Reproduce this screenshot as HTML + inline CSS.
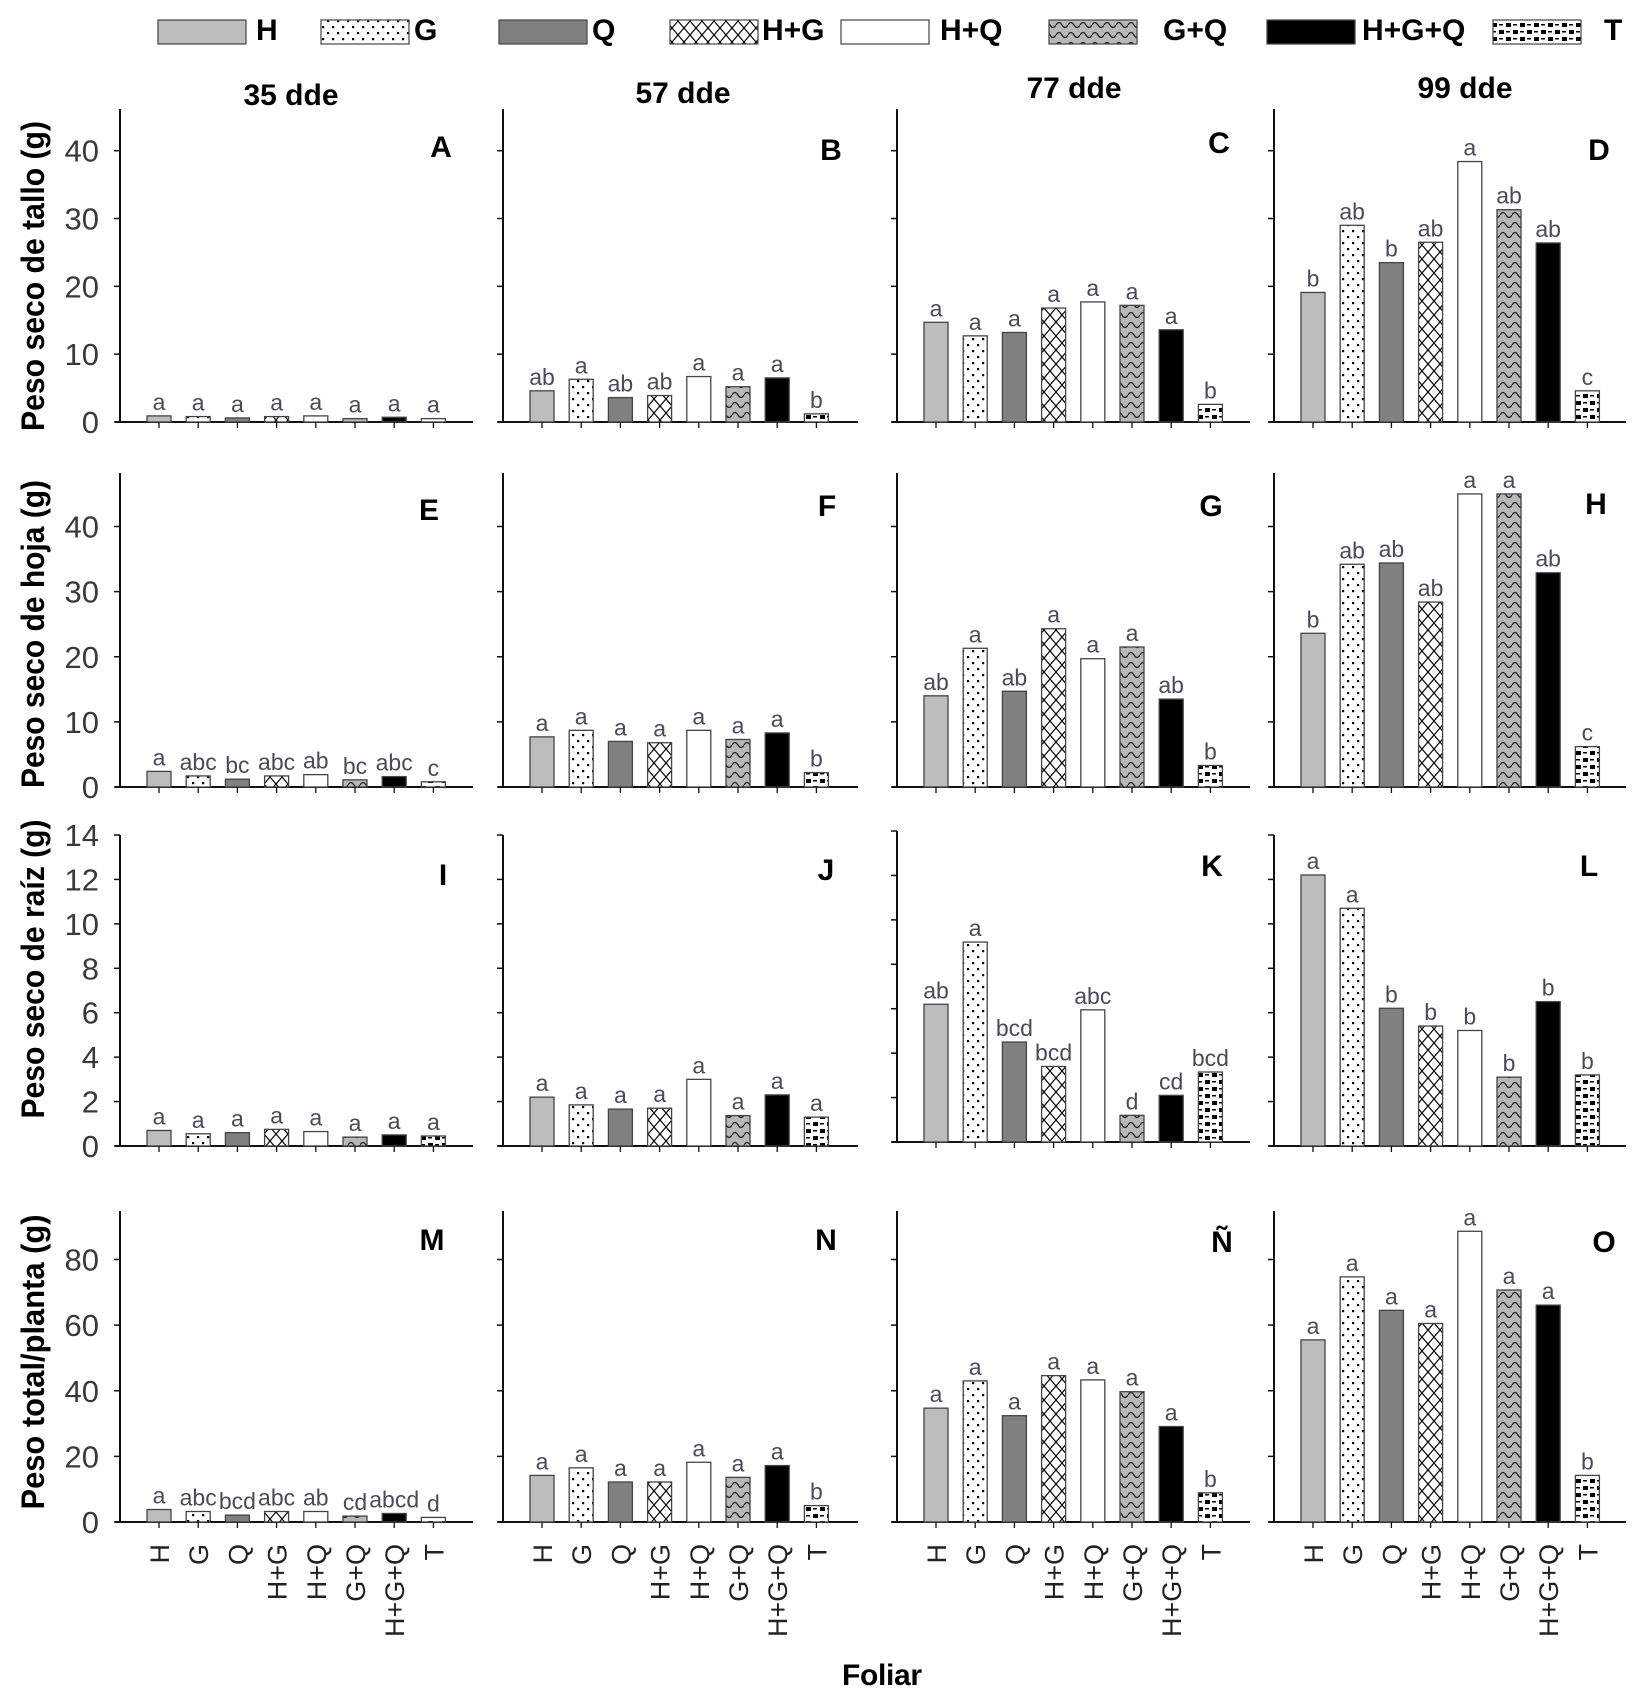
<!DOCTYPE html>
<html><head><meta charset="utf-8"><style>
html,body{margin:0;padding:0;background:#fff;}
svg{display:block;}
.tl{font-family:"Liberation Sans",sans-serif;font-size:31px;fill:#3a3a3a;}
.lt{font-family:"Liberation Sans",sans-serif;font-size:23px;fill:#4a4a5e;}
.xl{font-family:"Liberation Sans",sans-serif;font-size:27px;fill:#222;}
.bd{font-family:"Liberation Sans Narrow","Liberation Sans",sans-serif;font-weight:bold;font-size:30px;fill:#000;}
.rl{font-family:"Liberation Sans Narrow","Liberation Sans",sans-serif;font-weight:bold;font-size:32px;fill:#000;}
</style></head><body>
<svg id="chart" width="1646" height="1698" viewBox="0 0 1646 1698" xmlns="http://www.w3.org/2000/svg">
<defs>
<pattern id="p1" width="8" height="8" patternUnits="userSpaceOnUse"><rect width="8" height="8" fill="#bdbdbd"/></pattern>
<pattern id="p2" width="10" height="12" patternUnits="userSpaceOnUse"><rect width="10" height="12" fill="#fff"/><rect x="2" y="2" width="2.2" height="2.2" fill="#000"/><rect x="7" y="8" width="2.2" height="2.2" fill="#000"/></pattern>
<pattern id="p3" width="8" height="8" patternUnits="userSpaceOnUse"><rect width="8" height="8" fill="#808080"/></pattern>
<pattern id="p4" width="12" height="14" patternUnits="userSpaceOnUse"><rect width="12" height="14" fill="#fff"/><path d="M0 0L12 14M12 0L0 14" stroke="#000" stroke-width="1.2"/></pattern>
<pattern id="p5" width="8" height="8" patternUnits="userSpaceOnUse"><rect width="8" height="8" fill="#fff"/></pattern>
<pattern id="p6" width="12" height="10" patternUnits="userSpaceOnUse"><rect width="12" height="10" fill="#b8b8b8"/><path d="M0 5Q3 0 6 5T12 5" fill="none" stroke="#222" stroke-width="1.3"/></pattern>
<pattern id="p7" width="8" height="8" patternUnits="userSpaceOnUse"><rect width="8" height="8" fill="#000"/></pattern>
<pattern id="p8" width="14" height="14" patternUnits="userSpaceOnUse"><rect width="14" height="14" fill="#fff"/><rect x="1" y="2" width="5" height="4" fill="#000"/><rect x="8" y="9" width="5" height="4" fill="#000"/><rect x="8" y="3" width="4" height="1.5" fill="#000"/><rect x="1" y="10" width="4" height="1.5" fill="#000"/></pattern>
</defs>
<g id="legend"></g>
<g id="plots"></g>
<text class="bd" x="882" y="1685" text-anchor="middle" textLength="80">Foliar</text>
</svg>
<script>
const categories = ["H","G","Q","H+G","H+Q","G+Q","H+G+Q","T"];
const panelIds = ["A","B","C","D","E","F","G","H","I","J","K","L","M","N","Ñ","O"];
const colTitles = ["35 dde","57 dde","77 dde","99 dde"];
const rowTitles = ["Peso seco de tallo (g)","Peso seco de hoja (g)","Peso seco de raíz (g)","Peso total/planta (g)"];
const rowTicks = [[0,10,20,30,40],[0,10,20,30,40],[0,2,4,6,8,10,12,14],[0,20,40,60,80]];
const valuesA = [0.9,0.8,0.6,0.8,0.9,0.5,0.7,0.5];
const valuesB = [4.6,6.3,3.6,3.9,6.7,5.2,6.5,1.2];
const valuesC = [14.7,12.7,13.2,16.8,17.7,17.2,13.6,2.6];
const valuesD = [19.1,29.0,23.5,26.5,38.4,31.3,26.4,4.6];
const valuesE = [2.4,1.7,1.2,1.7,1.9,1.1,1.6,0.8];
const valuesF = [7.7,8.7,7.0,6.8,8.7,7.3,8.3,2.2];
const valuesG = [14.0,21.3,14.7,24.3,19.7,21.5,13.5,3.3];
const valuesH = [23.6,34.2,34.4,28.4,45.0,45.0,32.9,6.2];
const valuesI = [0.7,0.55,0.6,0.75,0.65,0.4,0.5,0.45];
const valuesJ = [2.2,1.85,1.66,1.7,3.0,1.37,2.3,1.3];
const valuesK = [6.2,9.0,4.5,3.4,5.95,1.2,2.1,3.15];
const valuesL = [12.2,10.7,6.2,5.4,5.2,3.1,6.5,3.2];
const valuesM = [3.8,3.2,2.1,3.2,3.2,1.8,2.6,1.4];
const valuesN = [14.2,16.5,12.2,12.2,18.2,13.6,17.2,5.0];
const valuesNn = [34.7,43.0,32.4,44.6,43.3,39.7,29.1,8.9];
const valuesO = [55.5,74.7,64.5,60.5,88.6,70.7,66.1,14.2];
const lettersA = ["a","a","a","a","a","a","a","a"];
const lettersB = ["ab","a","ab","ab","a","a","a","b"];
const lettersC = ["a","a","a","a","a","a","a","b"];
const lettersD = ["b","ab","b","ab","a","ab","ab","c"];
const lettersE = ["a","abc","bc","abc","ab","bc","abc","c"];
const lettersF = ["a","a","a","a","a","a","a","b"];
const lettersG = ["ab","a","ab","a","a","a","ab","b"];
const lettersH = ["b","ab","ab","ab","a","a","ab","c"];
const lettersI = ["a","a","a","a","a","a","a","a"];
const lettersJ = ["a","a","a","a","a","a","a","a"];
const lettersK = ["ab","a","bcd","bcd","abc","d","cd","bcd"];
const lettersL = ["a","a","b","b","b","b","b","b"];
const lettersM = ["a","abc","bcd","abc","ab","cd","abcd","d"];
const lettersN = ["a","a","a","a","a","a","a","b"];
const lettersNn = ["a","a","a","a","a","a","a","b"];
const lettersO = ["a","a","a","a","a","a","a","b"];
const allValues = [valuesA,valuesB,valuesC,valuesD,valuesE,valuesF,valuesG,valuesH,valuesI,valuesJ,valuesK,valuesL,valuesM,valuesN,valuesNn,valuesO];
const allLetters = [lettersA,lettersB,lettersC,lettersD,lettersE,lettersF,lettersG,lettersH,lettersI,lettersJ,lettersK,lettersL,lettersM,lettersN,lettersNn,lettersO];

const NS="http://www.w3.org/2000/svg";
function mk(tag,attrs,parent){const e=document.createElementNS(NS,tag);for(const k in attrs)e.setAttribute(k,attrs[k]);parent.appendChild(e);return e;}
const fills=["url(#p1)","url(#p2)","url(#p3)","url(#p4)","url(#p5)","url(#p6)","url(#p7)","url(#p8)"];
const colAxisX=[120,503,897,1274];
const colEndX=[473,858,1250,1626];
const rowZero=[422,787,1146,1522];
const rowTop=[109,473,835,1211];
const rowTopVal=[40,40,14,80];
const rowTopTickY=[150.7,526.5,835,1259.5];
const titleX=[291,683,1074,1465], titleY=[105,103,98,98];
const letterPos=[[441,157],[831,160],[1219,153],[1599,160],[429,520],[827,516],[1211,516],[1596,514],[443,885],[826,880],[1212,876],[1589,876],[432,1250],[826,1250],[1222,1252],[1604,1252]];
const rowLabelY=[276,634,969,1362], rowLabelLen=[310,308,299,295];

const leg=document.getElementById('legend');
const legBoxX=[158,321,499,670,841,1049,1267,1493];
const legTextX=[256,414,592,762,940,1163,1362,1604];
categories.forEach((c,i)=>{
  const g=mk('g',{},leg);
  
  
  mk('rect',{x:legBoxX[i],y:20,width:88,height:24,fill:fills[i],stroke:'#444','stroke-width':1.2},g);
  const t=mk('text',{x:legTextX[i],y:40,class:'bd'},g);t.textContent=c;
});

const plots=document.getElementById('plots');
for(let r=0;r<4;r++){
  const yl=mk('text',{class:'rl',x:0,y:0,'text-anchor':'middle',textLength:rowLabelLen[r],lengthAdjust:'spacingAndGlyphs',transform:`translate(44,${rowLabelY[r]}) rotate(-90)`},plots);
  yl.textContent=rowTitles[r];
  
  
  for(let c=0;c<4;c++){
    const idx=r*4+c;
    const g=mk('g',{},plots);
    
    
    const off=(idx===10)?-4:0;
    const zero=rowZero[r]+off;
    const pxPer=(rowZero[r]-rowTopTickY[r])/rowTopVal[r];
    const y=v=>zero-v*pxPer;
    const ax=colAxisX[c];
    const xc=i=>ax+39+i*39.2;
    mk('line',{x1:ax,y1:rowTop[r]+off,x2:ax,y2:zero,stroke:'#111','stroke-width':2},g);
    mk('line',{x1:ax-5,y1:zero,x2:colEndX[c],y2:zero,stroke:'#111','stroke-width':2},g);
    rowTicks[r].forEach(t=>{
      mk('line',{x1:ax-6,y1:y(t),x2:ax,y2:y(t),stroke:'#111','stroke-width':1.5},g);
      if(c===0){const tt=mk('text',{x:99,y:y(t)+11,'text-anchor':'end',class:'tl'},g);tt.textContent=t;}
    });
    const vals=allValues[idx], lets=allLetters[idx];
    vals.forEach((v,i)=>{
      const b=mk('rect',{x:xc(i)-12,y:y(v),width:24,height:v*pxPer,fill:fills[i],stroke:'#444','stroke-width':1.3},g);
      
      
      mk('line',{x1:xc(i),y1:zero,x2:xc(i),y2:zero+6,stroke:'#111','stroke-width':1.3},g);
      const lt=mk('text',{x:xc(i),y:y(v)-6,'text-anchor':'middle',class:'lt'},g);
      lt.textContent=lets[i];
      if(r===3){
        const xl=mk('text',{class:'xl','text-anchor':'end',transform:`translate(${xc(i)+10},1544) rotate(-90)`},g);
        xl.textContent=categories[i];
      }
    });
    const pl=mk('text',{x:letterPos[idx][0],y:letterPos[idx][1],'text-anchor':'middle',class:'bd'},g);
    pl.textContent=panelIds[idx];
    if(r===0){const ct=mk('text',{x:titleX[c],y:titleY[c],'text-anchor':'middle',class:'bd'},g);ct.textContent=colTitles[c];}
  }
}
</script>
</body></html>
